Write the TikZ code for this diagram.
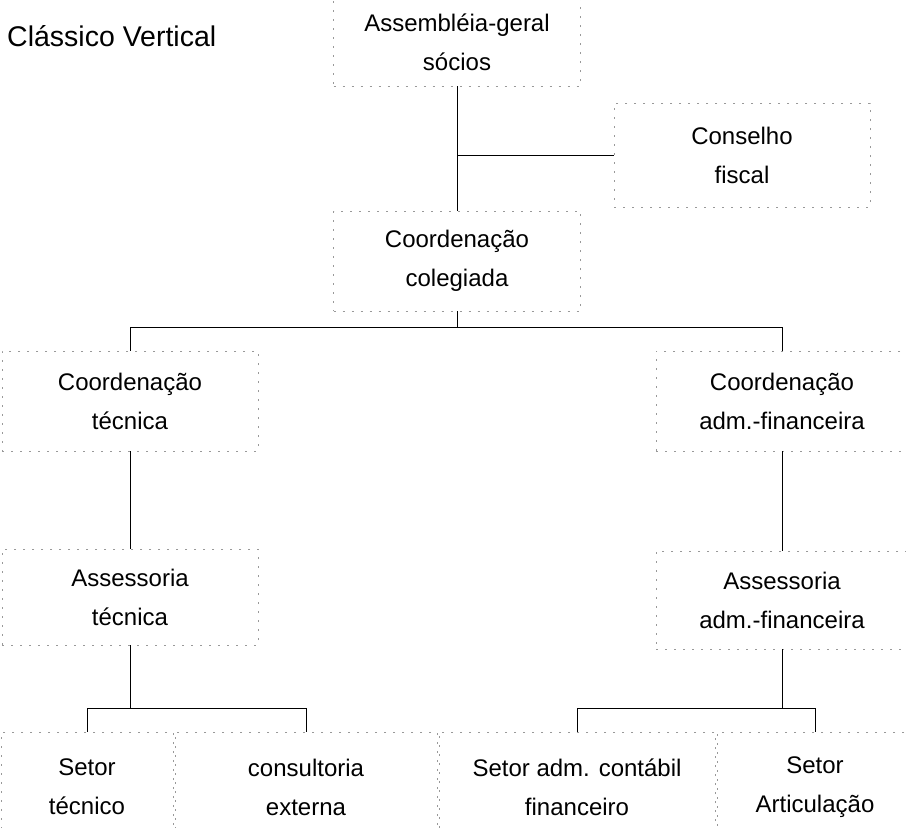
\documentclass[tikz,border=0pt]{standalone}
\usepackage{fontspec}
\setmainfont{Liberation Sans}
\usetikzlibrary{positioning, calc}

\begin{document}
\begin{tikzpicture}[x=1pt, y=-1pt,
        orgbox/.style={draw=black!40, dash pattern=on 2pt off 7pt, line width=0.6pt,
            inner sep=0pt, align=center, font=\fontsize{24}{39}\selectfont},
        orgline/.style={line width=1pt}]
        \useasboundingbox (0,0) rectangle (906,828);
        \clip (0,0) rectangle (906,828);

        \node (title) [anchor=west, inner sep=0pt, font=\fontsize{28.5}{30}\selectfont] at (7,36) {Clássico Vertical};

        \node (asm)   [orgbox, minimum width=247pt, minimum height=88pt]  at (457,42)  {Assembléia-geral\\sócios};
        \node (cfis)  [orgbox, minimum width=256pt, minimum height=104pt] at (742,155) {Conselho\\fiscal};
        \node (coleg) [orgbox, minimum width=247pt, minimum height=100pt] at (457,261) {Coordenação\\colegiada};

        \node (ctec)  [orgbox, minimum width=256pt, minimum height=100pt] at (130,401) {Coordenação\\técnica};
        \node (cadm)  [orgbox, minimum width=252pt, minimum height=100pt] at (782,401) {Coordenação\\adm.-financeira};

        \node (atec)  [orgbox, minimum width=256pt, minimum height=96pt]  at (130,597) {Assessoria\\técnica};
        \node (aadm)  [orgbox, minimum width=252pt, minimum height=98pt]  at (782,600) {Assessoria\\adm.-financeira};

        \node (stec)  [orgbox, minimum width=172pt, minimum height=110pt] at (87,787)  {Setor\\técnico};
        \node (cext)  [orgbox, minimum width=262pt, minimum height=110pt] at (306,787) {consultoria\\externa};
        \node (sadm)  [orgbox, minimum width=276pt, minimum height=110pt] at (577,787) {Setor adm. contábil\\financeiro};
        \node (sart)  [orgbox, minimum width=196pt, minimum height=110pt] at (815,787) {Setor\\Articulação};

        \coordinate (bcoleg) at (457,327);
        \coordinate (btec)   at (130,708);
        \coordinate (badm)   at (782,708);

        \draw [orgline] (asm.south)   -- (coleg.north);
        \draw [orgline] (asm.south |- cfis.west) -- (cfis.west);

        \draw [orgline] (coleg.south) -- (bcoleg);
        \draw [orgline] (bcoleg) -| (ctec.north);
        \draw [orgline] (bcoleg) -| (cadm.north);

        \draw [orgline] (ctec.south)  -- (atec.north);
        \draw [orgline] (cadm.south)  -- (aadm.north);

        \draw [orgline] (atec.south)  -- (btec);
        \draw [orgline] (btec) -| (stec.north);
        \draw [orgline] (btec) -| (cext.north);

        \draw [orgline] (aadm.south)  -- (badm);
        \draw [orgline] (badm) -| (sadm.north);
        \draw [orgline] (badm) -| (sart.north);
\end{tikzpicture}
\end{document}
